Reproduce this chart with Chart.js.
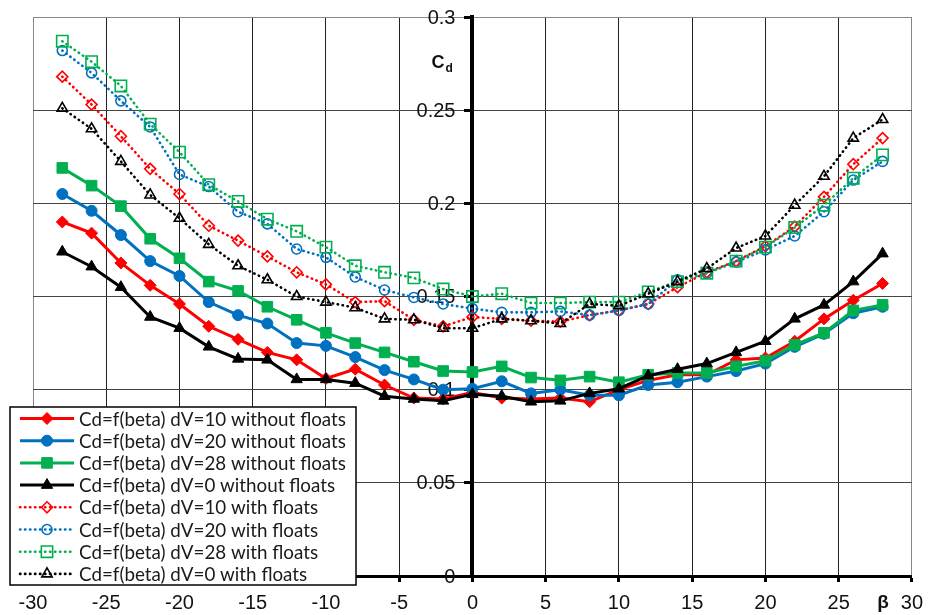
<!DOCTYPE html>
<html>
<head>
<meta charset="utf-8">
<script src="https://cdn.jsdelivr.net/npm/chart.js@4.4.0/dist/chart.umd.min.js"></script>
<style>
    html, body { margin: 0; padding: 0; background: #fff; }
    #wrap { width: 932px; height: 615px; }
</style>
</head>
<body>
<div id="wrap"><canvas id="cdChart" width="932" height="615"></canvas></div>
<script>
// beta angles (deg)
const betas = [-28, -26, -24, -22, -20, -18, -16, -14, -12, -10, -8, -6, -4, -2, 0,
    2, 4, 6, 8, 10, 12, 14, 16, 18, 20, 22, 24, 26, 28];

// Cd without floats
const cd10 = [0.190, 0.184, 0.168, 0.156, 0.146, 0.134, 0.127, 0.120, 0.116, 0.106, 0.111, 0.1025, 0.0955, 0.095, 0.0985,
    0.0955, 0.095, 0.0955, 0.0935, 0.100, 0.105, 0.108, 0.108, 0.116, 0.117, 0.126, 0.138, 0.148, 0.157];
const cd20 = [0.205, 0.196, 0.183, 0.169, 0.161, 0.147, 0.140, 0.1355, 0.125, 0.1235, 0.1175, 0.1105, 0.1055, 0.100, 0.1005,
    0.1045, 0.098, 0.100, 0.097, 0.097, 0.1025, 0.104, 0.107, 0.110, 0.114, 0.123, 0.130, 0.141, 0.1445];
const cd28 = [0.219, 0.2095, 0.1985, 0.181, 0.1705, 0.158, 0.153, 0.1445, 0.1375, 0.1305, 0.125, 0.120, 0.115, 0.110, 0.1095,
    0.1125, 0.1065, 0.105, 0.107, 0.104, 0.108, 0.109, 0.109, 0.1125, 0.1155, 0.124, 0.1305, 0.1425, 0.1455];
const cd0 = [0.174, 0.166, 0.155, 0.139, 0.133, 0.123, 0.1165, 0.116, 0.1055, 0.1055, 0.1035, 0.0965, 0.095, 0.094, 0.0975,
    0.0965, 0.0935, 0.094, 0.098, 0.1005, 0.1075, 0.111, 0.114, 0.120, 0.126, 0.138, 0.1455, 0.158, 0.173];

// Cd with floats
const cd10f = [0.268, 0.253, 0.236, 0.2185, 0.205, 0.188, 0.180, 0.1715, 0.163, 0.1565, 0.147, 0.1475, 0.1375, 0.134, 0.139,
    0.138, 0.137, 0.1365, 0.140, 0.1425, 0.146, 0.155, 0.163, 0.169, 0.177, 0.1875, 0.2035, 0.221, 0.235];
const cd20f = [0.282, 0.270, 0.255, 0.241, 0.2155, 0.209, 0.1955, 0.189, 0.1755, 0.171, 0.1605, 0.1535, 0.1495, 0.146, 0.1435,
    0.1415, 0.1415, 0.142, 0.140, 0.1425, 0.146, 0.159, 0.1625, 0.1685, 0.175, 0.1825, 0.1955, 0.2125, 0.2225];
const cd28f = [0.287, 0.276, 0.263, 0.2425, 0.2275, 0.210, 0.201, 0.1915, 0.185, 0.1765, 0.1665, 0.163, 0.160, 0.154, 0.150,
    0.1515, 0.1465, 0.1465, 0.147, 0.147, 0.1525, 0.158, 0.1625, 0.169, 0.1765, 0.187, 0.199, 0.2135, 0.226];
const cd0f = [0.251, 0.240, 0.2225, 0.2045, 0.192, 0.178, 0.1665, 0.159, 0.150, 0.147, 0.144, 0.138, 0.1375, 0.133, 0.133,
    0.138, 0.137, 0.1355, 0.146, 0.145, 0.1515, 0.158, 0.165, 0.176, 0.1825, 0.199, 0.2145, 0.235, 0.245];

const seriesLabels = [
    'Cd=f(beta) dV=10 without floats',
    'Cd=f(beta) dV=20 without floats',
    'Cd=f(beta) dV=28 without floats',
    'Cd=f(beta) dV=0 without floats',
    'Cd=f(beta) dV=10 with floats',
    'Cd=f(beta) dV=20 with floats',
    'Cd=f(beta) dV=28 with floats',
    'Cd=f(beta) dV=0 with floats'
];
const seriesValues = [cd10, cd20, cd28, cd0, cd10f, cd20f, cd28f, cd0f];

const yTickValues = [0, 0.05, 0.1, 0.15, 0.2, 0.25, 0.3];
const yTickLabels = ['0', '0.05', '0.1', '0.15', '0.2', '0.25', '0.3'];

// styles
const colors = ['#FF0000', '#0070C0', '#00B050', '#000000'];
const markers = ['rectRot', 'circle', 'rect', 'triangle'];
const solidRadius = { rectRot: 6, circle: 5.5, rect: 7.5, triangle: 6.5 };
const hollowRadius = { rectRot: 5.5, circle: 5, rect: 8, triangle: 6 };

const datasets = seriesValues.map((values, i) => {
    const k = i % 4;
    const floats = i >= 4;
    const marker = markers[k];
    return {
        label: seriesLabels[i],
        data: betas.map((b, j) => ({ x: b, y: values[j] })),
        borderColor: colors[k],
        backgroundColor: floats ? 'rgba(255,255,255,0)' : colors[k],
        pointStyle: marker,
        pointRadius: floats ? hollowRadius[marker] : solidRadius[marker],
        pointHoverRadius: floats ? hollowRadius[marker] : solidRadius[marker],
        pointBorderWidth: floats ? 1.6 : 1,
        borderWidth: floats ? 2.6 : 3,
        borderDash: floats ? [0.4, 4.6] : [],
        borderCapStyle: floats ? 'round' : 'butt',
        tension: 0,
        order: 8 - i
    };
});

const LABEL_FONT = '20px "Liberation Sans", Arial, sans-serif';

// y labels next to the centre axis, Cd and beta titles
const axisText = {
    id: 'axisText',
    beforeDatasetsDraw(chart) {
        const { ctx, scales: { x, y } } = chart;
        const ax = x.getPixelForValue(0);
        ctx.save();
        ctx.font = LABEL_FONT;
        ctx.fillStyle = '#111';
        ctx.textAlign = 'right';
        ctx.textBaseline = 'middle';
        yTickValues.forEach((v, i) => {
            ctx.fillText(yTickLabels[i], ax - 17, y.getPixelForValue(v) + 1);
        });
        ctx.textAlign = 'left';
        ctx.textBaseline = 'alphabetic';
        ctx.font = 'bold 18px "Liberation Sans", Arial, sans-serif';
        ctx.fillText('C', ax - 41, 68);
        ctx.font = 'bold 12px "Liberation Sans", Arial, sans-serif';
        ctx.fillText('d', ax - 27, 72);
        ctx.restore();
    },
    afterDraw(chart) {
        const { ctx } = chart;
        ctx.save();
        ctx.font = 'bold 19px "Liberation Sans", Arial, sans-serif';
        ctx.fillStyle = '#111';
        ctx.textAlign = 'center';
        ctx.textBaseline = 'middle';
        ctx.fillText('\u03B2', 883, 603);
        ctx.restore();
    }
};

// legend box drawn over the lower left of the plot
const boxLegend = {
    id: 'boxLegend',
    afterDraw(chart) {
        const { ctx } = chart;
        const bx = 10, by = 407, bw = 346, bh = 178;
        ctx.save();
        ctx.fillStyle = '#fff';
        ctx.fillRect(bx, by, bw, bh);
        ctx.strokeStyle = '#000';
        ctx.lineWidth = 1.5;
        ctx.strokeRect(bx, by, bw, bh);
        chart.data.datasets.forEach((ds, i) => {
            const cy = 418.5 + i * 22.2;
            ctx.strokeStyle = ds.borderColor;
            ctx.lineWidth = ds.borderWidth;
            ctx.lineCap = ds.borderCapStyle;
            ctx.setLineDash(ds.borderDash);
            ctx.beginPath();
            ctx.moveTo(20, cy);
            ctx.lineTo(74, cy);
            ctx.stroke();
            ctx.setLineDash([]);
            ctx.lineCap = 'butt';
            ctx.fillStyle = ds.backgroundColor;
            ctx.lineWidth = ds.pointBorderWidth;
            Chart.helpers.drawPoint(ctx, {
                pointStyle: ds.pointStyle,
                radius: ds.pointRadius,
                borderWidth: ds.pointBorderWidth,
                rotation: 0
            }, 47, cy);
            ctx.fillStyle = '#1a1a1a';
            ctx.font = '18.8px Lato, "Open Sans", sans-serif';
            ctx.textAlign = 'left';
            ctx.textBaseline = 'middle';
            ctx.fillText(ds.label, 79, cy + 1);
        });
        ctx.restore();
    }
};

const ctx = document.getElementById('cdChart').getContext('2d');
new Chart(ctx, {
    type: 'line',
    data: { datasets },
    options: {
        responsive: false,
        animation: false,
        devicePixelRatio: 1,
        layout: { padding: { left: 33, right: 17, top: 17, bottom: 0 } },
        plugins: {
            legend: { display: false },
            tooltip: { enabled: false }
        },
        scales: {
            x: {
                type: 'linear',
                min: -30,
                max: 30,
                ticks: {
                    stepSize: 5,
                    autoSkip: false,
                    maxRotation: 0,
                    padding: 9,
                    color: '#111',
                    font: { family: '"Liberation Sans", Arial, sans-serif', size: 20 }
                },
                grid: {
                    color: c => (c.tick && Math.abs(c.tick.value) === 30) ? '#888' : '#222',
                    lineWidth: 1,
                    tickLength: 6,
                    tickWidth: 3,
                    tickColor: '#000'
                },
                border: { display: true, color: '#000', width: 3 },
                afterFit: s => { s.height = 39; }
            },
            y: {
                min: 0,
                max: 0.3,
                position: { x: 0 },
                ticks: { stepSize: 0.05, display: false },
                grid: {
                    color: c => (c.tick && c.tick.value === 0.3) ? '#888' : '#444',
                    lineWidth: 1,
                    tickLength: 6,
                    tickWidth: 3,
                    tickColor: '#000'
                },
                border: { display: true, color: '#000', width: 4 }
            }
        }
    },
    plugins: [axisText, boxLegend]
});
</script>
</body>
</html>
